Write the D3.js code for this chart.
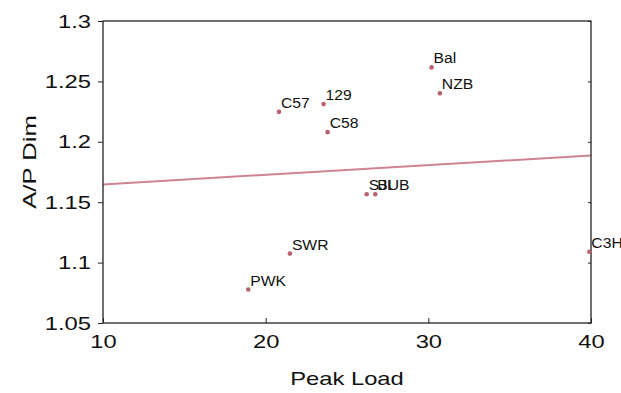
<!DOCTYPE html>
<html>
<head>
<meta charset="utf-8">
<script src="https://cdn.jsdelivr.net/npm/d3@7"></script>
<style>
  body { margin: 0; background: #fff; }
  svg text { font-family: "Liberation Sans", Arial, Helvetica, sans-serif; fill: #111; }
</style>
</head>
<body>
<div class="chart"></div>
<script>
// mouse strains: peak load vs A/P dimension
const strains = ["Bal", "NZB", "129", "C57", "C58", "SJL", "BUB", "SWR", "PWK", "C3H"];
const peakLoad = [30.2, 30.71, 23.56, 20.82, 23.81, 26.21, 26.74, 21.49, 18.93, 39.9];
const apDim = [1.2616, 1.2401, 1.2312, 1.2248, 1.2080, 1.1566, 1.1566, 1.1075, 1.0777, 1.109];

// linear fit, end points
const fitX = [10, 40];
const fitY = [1.1647, 1.1887];

const xTicks = [10, 20, 30, 40];
const yTicks = [1.05, 1.1, 1.15, 1.2, 1.25, 1.3];

const margin = { top: 21, right: 30, bottom: 70, left: 103 };
const W = 621, H = 393;
const w = W - margin.left - margin.right;
const h = H - margin.top - margin.bottom;

// the original lettering is wider than Liberation Sans, stretch along the baseline
function widen(sel, k) {
  sel.each(function() {
    const len = this.getComputedTextLength();
    d3.select(this).attr("textLength", len * k).attr("lengthAdjust", "spacingAndGlyphs");
  });
}

const svg = d3.select(".chart").append("svg")
  .attr("width", W)
  .attr("height", H)
  .append("g")
  .attr("transform", "translate(" + margin.left + "," + margin.top + ")");

const x = d3.scaleLinear().domain([10, 40]).range([0, w]);
const y = d3.scaleLinear().domain([1.05, 1.3]).range([h, 0]);

// fit line
svg.append("path")
  .datum(d3.zip(fitX, fitY))
  .attr("d", d3.line().x(d => x(d[0])).y(d => y(d[1])))
  .attr("fill", "none")
  .attr("stroke", "#cd8490")
  .attr("stroke-width", 2);

// box
svg.append("rect")
  .attr("width", w).attr("height", h)
  .attr("fill", "none").attr("stroke", "#222").attr("stroke-width", 1.3);

// bottom axis, ticks inward
const xAxis = svg.append("g")
  .attr("transform", "translate(0," + h + ")")
  .call(d3.axisBottom(x).tickValues(xTicks).tickSize(-5).tickPadding(12).tickFormat(d3.format("d")));
xAxis.select(".domain").remove();
xAxis.selectAll("text").attr("font-size", 19).attr("dy", "0.71em");

// left axis, ticks outward
const yAxis = svg.append("g")
  .call(d3.axisLeft(y).tickValues(yTicks).tickSize(5).tickPadding(7).tickFormat(d => String(+d.toFixed(2))));
yAxis.select(".domain").remove();
yAxis.selectAll("text").attr("font-size", 19);

// right axis mirror ticks
svg.append("g")
  .attr("transform", "translate(" + w + ",0)")
  .call(d3.axisRight(y).tickValues(yTicks).tickSize(-3).tickFormat(""))
  .select(".domain").remove();

svg.selectAll(".tick line").attr("stroke", "#222");
svg.selectAll(".tick text").style("fill", "#111");
widen(svg.selectAll(".tick text"), 1.25);

// points
const pts = d3.zip(strains, peakLoad, apDim);
svg.selectAll(".dot")
  .data(pts)
  .enter().append("circle")
  .attr("class", "dot")
  .attr("cx", d => x(d[1]))
  .attr("cy", d => y(d[2]))
  .attr("r", 2.3)
  .attr("fill", "#b8606e");

const labels = svg.selectAll(".lbl")
  .data(pts)
  .enter().append("text")
  .attr("class", "lbl")
  .attr("x", d => x(d[1]) + 2)
  .attr("y", d => y(d[2]) - 4)
  .attr("font-size", 14)
  .text(d => d[0]);
widen(labels, 1.12);

// axis titles
const xTitle = svg.append("text")
  .attr("x", w / 2)
  .attr("y", h + 62)
  .attr("text-anchor", "middle")
  .attr("font-size", 19)
  .text("Peak Load");
widen(xTitle, 1.25);

const yTitle = svg.append("text")
  .attr("transform", "translate(" + (-67) + "," + (h / 2 - 10) + ") rotate(-90)")
  .attr("text-anchor", "middle")
  .attr("font-size", 19)
  .text("A/P Dim");
widen(yTitle, 1.35);
</script>
</body>
</html>
